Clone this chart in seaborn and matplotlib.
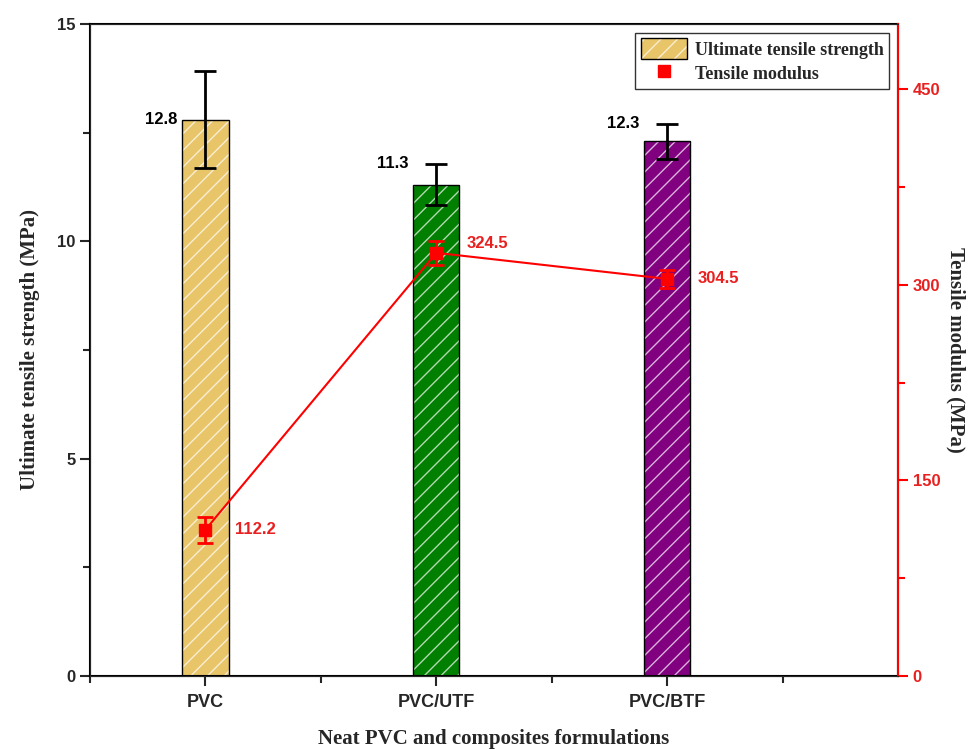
import matplotlib
matplotlib.use('Agg')
import matplotlib.pyplot as plt
from matplotlib.patches import Patch
from matplotlib.lines import Line2D
from matplotlib.ticker import MultipleLocator, FixedLocator
import pandas as pd
import seaborn as sns

# data
formulations = ['PVC', 'PVC/UTF', 'PVC/BTF']
uts = [12.8, 11.3, 12.3]
uts_err = [1.12, 0.47, 0.40]
modulus = [112.2, 324.5, 304.5]
modulus_err = [10.0, 9.0, 7.0]
bar_colors = ['#E9C56A', '#007F00', '#800080']

# where the value labels sit (offsets from the value)
uts_label_dy = [0.0, 0.5, 0.4]
mod_label_dy = [0.0, 7.0, 0.0]

sns.set_style('ticks')
plt.rcParams['hatch.linewidth'] = 1.0
sans = 'Liberation Sans'
serif = 'Liberation Serif'
hatch_rgba = (1, 1, 1, 0.7)

df = pd.DataFrame({'formulation': formulations, 'uts': uts})

fig = plt.figure(figsize=(9.74, 7.49), dpi=100)
ax = fig.add_axes([0.0924, 0.0975, 0.8296, 0.8705])

sns.barplot(data=df, x='formulation', y='uts', hue='formulation',
            palette=bar_colors, saturation=1, width=0.2, edgecolor='black',
            linewidth=1.0, legend=False, ax=ax)
for p in ax.patches:
    p.set_hatch('//')
    if hasattr(p, 'set_hatchcolor'):
        p.set_hatchcolor(hatch_rgba)
    else:
        p._hatch_color = hatch_rgba

xpos = list(range(len(formulations)))
ax.errorbar(xpos, uts, yerr=uts_err, fmt='none', ecolor='black',
            elinewidth=2, capsize=8, capthick=2, zorder=5)
for x, v, dy in zip(xpos, uts, uts_label_dy):
    ax.text(x - 0.12, v + dy, f'{v}', ha='right', va='center', fontsize=12,
            fontweight='bold', family=sans, color='black')

ax.set_xlim(-0.5, 3.0)
ax.set_ylim(0, 15)
ax.yaxis.set_major_locator(MultipleLocator(5))
ax.yaxis.set_minor_locator(MultipleLocator(2.5))
ax.xaxis.set_minor_locator(FixedLocator([-0.5, 0.5, 1.5, 2.5]))
ax.tick_params(axis='both', which='major', direction='out', length=7, width=1.5)
ax.tick_params(axis='both', which='minor', direction='out', length=5, width=1.5)
for lab in ax.get_xticklabels() + ax.get_yticklabels():
    lab.set_family(sans)
    lab.set_fontweight('bold')
for lab in ax.get_xticklabels():
    lab.set_fontsize(13)
for lab in ax.get_yticklabels():
    lab.set_fontsize(12)
ax.tick_params(axis='x', pad=6)

ax.set_xlabel('Neat PVC and composites formulations', family=serif,
              fontweight='bold', fontsize=15, labelpad=13)
ax.set_ylabel('Ultimate tensile strength (MPa)', family=serif,
              fontweight='bold', fontsize=15, labelpad=12)
for s in ax.spines.values():
    s.set_linewidth(1.5)
    s.set_color('black')

# secondary axis: tensile modulus
ax2 = ax.twinx()
ax2.errorbar(xpos, modulus, yerr=modulus_err, color='red', marker='s',
             markersize=9, linewidth=1.5, elinewidth=2, capsize=6,
             capthick=2, zorder=6)
for x, v, dy in zip(xpos, modulus, mod_label_dy):
    ax2.text(x + 0.13, v + dy, f'{v}', ha='left', va='center', fontsize=12,
             fontweight='bold', family=sans, color='#E82020')
ax2.set_ylim(0, 500)
ax2.yaxis.set_major_locator(MultipleLocator(150))
ax2.yaxis.set_minor_locator(MultipleLocator(75))
ax2.tick_params(axis='y', which='major', direction='out', length=7, width=1.5,
                colors='red', labelcolor='#E82020')
ax2.tick_params(axis='y', which='minor', direction='out', length=5, width=1.5,
                colors='red')
for lab in ax2.get_yticklabels():
    lab.set_family(sans)
    lab.set_fontweight('bold')
    lab.set_fontsize(12)
ax2.spines['right'].set_color('red')
ax2.spines['right'].set_linewidth(1.5)
ax2.set_ylabel('Tensile modulus (MPa)', family=serif, fontweight='bold',
               fontsize=15, rotation=270, labelpad=18)

handles = [
    Patch(facecolor=bar_colors[0], edgecolor='black', hatch='//'),
    Line2D([], [], color='red', marker='s', linestyle='none', markersize=9),
]
leg = ax2.legend(handles, ['Ultimate tensile strength', 'Tensile modulus'],
                 loc='upper right', frameon=True, fancybox=False,
                 edgecolor='black', borderaxespad=0.5, handlelength=2.6,
                 handleheight=1.4, handletextpad=0.4, borderpad=0.3,
                 labelspacing=0.2,
                 prop={'family': serif, 'weight': 'bold', 'size': 13})
leg.get_frame().set_linewidth(1.0)
h0 = leg.legend_handles[0]
if hasattr(h0, 'set_hatchcolor'):
    h0.set_hatchcolor(hatch_rgba)
else:
    h0._hatch_color = hatch_rgba

fig.savefig('out.png', dpi=100)
